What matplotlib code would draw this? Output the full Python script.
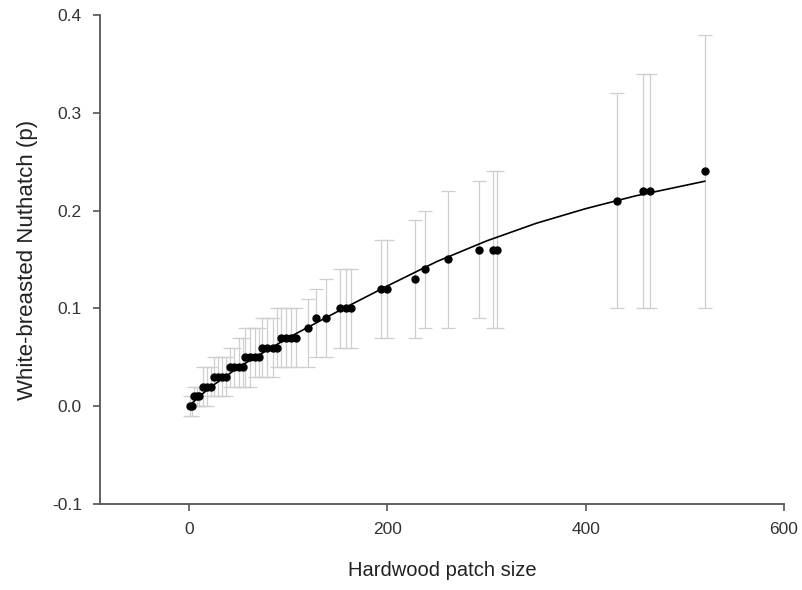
import matplotlib
matplotlib.use("Agg")
import matplotlib.pyplot as plt
import numpy as np

plt.rcParams['font.family'] = ['Liberation Sans', 'DejaVu Sans']

# observed points (patch size, p) with lower / upper bounds
patch_size = [1, 3, 5, 8, 10, 14, 18, 22, 25, 29, 33, 37, 41, 45, 50, 54,
              56, 61, 66, 70, 73, 78, 84, 89, 93, 98, 103, 108,
              120, 128, 138, 152, 158, 163, 193, 199, 228, 238, 261,
              292, 306, 310, 432, 458, 465, 520]
p_value = [0.00, 0.00, 0.01, 0.01, 0.01, 0.02, 0.02, 0.02, 0.03, 0.03, 0.03, 0.03,
           0.04, 0.04, 0.04, 0.04, 0.05, 0.05, 0.05, 0.05, 0.06, 0.06, 0.06, 0.06,
           0.07, 0.07, 0.07, 0.07, 0.08, 0.09, 0.09, 0.10, 0.10, 0.10, 0.12, 0.12,
           0.13, 0.14, 0.15, 0.16, 0.16, 0.16, 0.21, 0.22, 0.22, 0.24]
p_lower = [-0.01, -0.01, 0.00, 0.00, 0.00, 0.00, 0.00, 0.01, 0.01, 0.01, 0.01, 0.01,
           0.02, 0.02, 0.02, 0.02, 0.02, 0.02, 0.03, 0.03, 0.03, 0.03, 0.03, 0.04,
           0.04, 0.04, 0.04, 0.04, 0.04, 0.05, 0.05, 0.06, 0.06, 0.06, 0.07, 0.07,
           0.07, 0.08, 0.08, 0.09, 0.08, 0.08, 0.10, 0.10, 0.10, 0.10]
p_upper = [0.01, 0.01, 0.02, 0.02, 0.02, 0.04, 0.04, 0.04, 0.05, 0.05, 0.05, 0.05,
           0.06, 0.06, 0.07, 0.07, 0.08, 0.08, 0.08, 0.08, 0.09, 0.09, 0.09, 0.10,
           0.10, 0.10, 0.10, 0.10, 0.11, 0.12, 0.13, 0.14, 0.14, 0.14, 0.17, 0.17,
           0.19, 0.20, 0.22, 0.23, 0.24, 0.24, 0.32, 0.34, 0.34, 0.38]

# fitted curve
curve_x = [0, 10, 25, 50, 100, 150, 200, 250, 300, 350, 400, 450, 520]
curve_y = [0.0, 0.010, 0.022, 0.040, 0.070, 0.097, 0.123, 0.148, 0.169, 0.187, 0.202, 0.215, 0.230]

x_ticks = [0, 200, 400, 600]
y_ticks = [-0.1, 0.0, 0.1, 0.2, 0.3, 0.4]

fig = plt.figure(figsize=(8.02, 5.90), dpi=100)
ax = fig.add_axes([0.1247, 0.1458, 0.9776 - 0.1247, 0.9746 - 0.1458])

x = np.array(patch_size)
y = np.array(p_value)
lo = np.array(p_lower)
hi = np.array(p_upper)
ax.errorbar(x, y, yerr=[y - lo, hi - y], fmt='none', ecolor='#cfcfcf',
            elinewidth=0.9, capsize=5, capthick=0.9, zorder=1)
ax.plot(curve_x, curve_y, color='black', lw=1.2, zorder=2)
ax.plot(x, y, 'o', color='black', markersize=5, zorder=3)

ax.set_xlim(-90, 600)
ax.set_ylim(-0.1, 0.4)
ax.set_xticks(x_ticks)
ax.set_yticks(y_ticks)
ax.set_yticklabels([f"{v:.1f}" for v in y_ticks])
for s in ['top', 'right']:
    ax.spines[s].set_visible(False)
for s in ['left', 'bottom']:
    ax.spines[s].set_color('#555555')
    ax.spines[s].set_linewidth(1.3)
ax.tick_params(direction='out', length=5, width=1.2, color='#555555',
               labelsize=12.5, labelcolor='#333333', pad=8)
ax.set_xlabel('Hardwood patch size', fontsize=14.5, color='#222222', labelpad=17)
ax.set_ylabel('White-breasted Nuthatch (p)', fontsize=16, color='#222222', labelpad=10)

fig.savefig('out.png', dpi=100)
